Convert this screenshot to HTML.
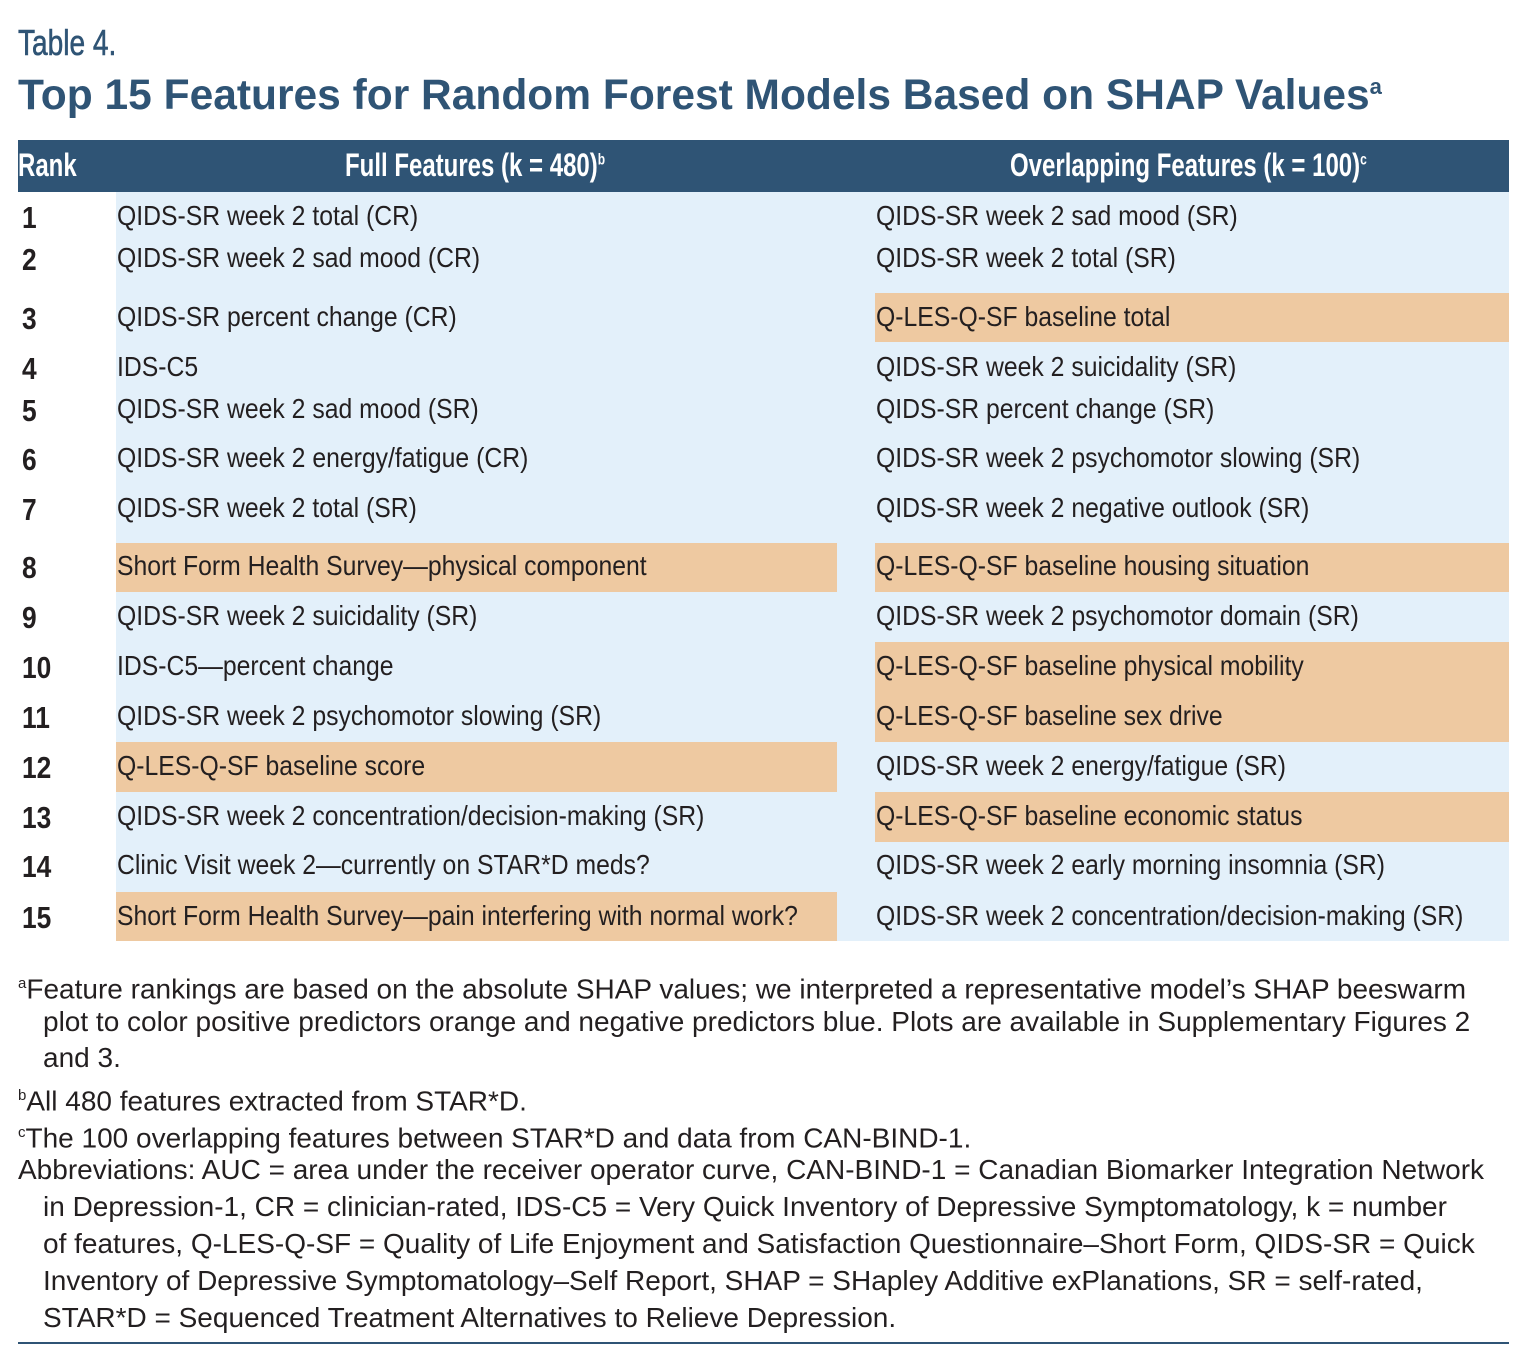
<!DOCTYPE html>
<html><head><meta charset="utf-8">
<style>
body{margin:0;background:#fff;width:1536px;height:1360px;position:relative;overflow:hidden;font-family:"Liberation Sans",sans-serif;color:#231f20}
.abs{position:absolute;white-space:nowrap}
.cell{position:absolute;}
.txt{position:absolute;white-space:nowrap;font-size:28px;line-height:32px;transform:scaleX(0.884);transform-origin:0 0}
.rank{position:absolute;white-space:nowrap;font-size:31px;font-weight:bold;line-height:32px;transform:scaleX(0.85);transform-origin:0 0}
.fn{position:absolute;white-space:nowrap;font-size:28px;line-height:30px;left:18px}
</style></head><body>
<div class="abs" style="left:18px;top:22px;font-size:36px;color:#2f5475;transform:scaleX(0.78);transform-origin:0 0;-webkit-text-stroke:0.6px #2f5475">Table 4.</div>
<div class="abs" style="left:18px;top:72px;font-size:42.5px;font-weight:bold;color:#2f5475">Top 15 Features for Random Forest Models Based on SHAP Values<sup style="font-size:22px">a</sup></div>
<div class="abs" style="left:18px;top:140px;width:1491px;height:52px;background:#2f5475"></div>
<div class="abs" style="left:18px;top:147px;font-size:32px;font-weight:bold;color:#fff;transform:scaleX(0.75);transform-origin:0 0">Rank</div>
<div class="abs" style="left:345px;top:147px;font-size:32px;font-weight:bold;color:#fff;transform:scaleX(0.75);transform-origin:0 0">Full Features (k = 480)<sup style="font-size:16px">b</sup></div>
<div class="abs" style="left:1010px;top:147px;font-size:32px;font-weight:bold;color:#fff;transform:scaleX(0.75);transform-origin:0 0">Overlapping Features (k = 100)<sup style="font-size:16px">c</sup></div>
<div class="abs" style="left:116px;top:192px;width:1393px;height:749px;background:#e3f0fa"></div>
<div id="rows"></div>
<div class="fn" style="top:969px"><sup style="font-size:15px">a</sup>Feature rankings are based on the absolute SHAP values; we interpreted a representative model’s SHAP beeswarm</div>
<div class="fn" style="top:1007px;left:43px">plot to color positive predictors orange and negative predictors blue. Plots are available in Supplementary Figures 2</div>
<div class="fn" style="top:1043px;left:43px">and 3.</div>
<div class="fn" style="top:1081px"><sup style="font-size:15px">b</sup>All 480 features extracted from STAR*D.</div>
<div class="fn" style="top:1118px"><sup style="font-size:15px">c</sup>The 100 overlapping features between STAR*D and data from CAN-BIND-1.</div>
<div class="fn" style="top:1155px">Abbreviations: AUC = area under the receiver operator curve, CAN-BIND-1 = Canadian Biomarker Integration Network</div>
<div class="fn" style="top:1192px;left:43px">in Depression-1, CR = clinician-rated, IDS-C5 = Very Quick Inventory of Depressive Symptomatology, k = number</div>
<div class="fn" style="top:1229px;left:43px">of features, Q-LES-Q-SF = Quality of Life Enjoyment and Satisfaction Questionnaire–Short Form, QIDS-SR = Quick</div>
<div class="fn" style="top:1266px;left:43px">Inventory of Depressive Symptomatology–Self Report, SHAP = SHapley Additive exPlanations, SR = self-rated,</div>
<div class="fn" style="top:1303px;left:43px">STAR*D = Sequenced Treatment Alternatives to Relieve Depression.</div>
<div class="abs" style="left:18px;top:1342px;width:1491px;height:2px;background:#2f5475"></div>
<script>
const leftFeatures=["QIDS-SR week 2 total (CR)","QIDS-SR week 2 sad mood (CR)","QIDS-SR percent change (CR)","IDS-C5","QIDS-SR week 2 sad mood (SR)","QIDS-SR week 2 energy/fatigue (CR)","QIDS-SR week 2 total (SR)","Short Form Health Survey—physical component","QIDS-SR week 2 suicidality (SR)","IDS-C5—percent change","QIDS-SR week 2 psychomotor slowing (SR)","Q-LES-Q-SF baseline score","QIDS-SR week 2 concentration/decision-making (SR)","Clinic Visit week 2—currently on STAR*D meds?","Short Form Health Survey—pain interfering with normal work?"];
const rightFeatures=["QIDS-SR week 2 sad mood (SR)","QIDS-SR week 2 total (SR)","Q-LES-Q-SF baseline total","QIDS-SR week 2 suicidality (SR)","QIDS-SR percent change (SR)","QIDS-SR week 2 psychomotor slowing (SR)","QIDS-SR week 2 negative outlook (SR)","Q-LES-Q-SF baseline housing situation","QIDS-SR week 2 psychomotor domain (SR)","Q-LES-Q-SF baseline physical mobility","Q-LES-Q-SF baseline sex drive","QIDS-SR week 2 energy/fatigue (SR)","Q-LES-Q-SF baseline economic status","QIDS-SR week 2 early morning insomnia (SR)","QIDS-SR week 2 concentration/decision-making (SR)"];
const leftPositive=[0,0,0,0,0,0,0,1,0,0,0,1,0,0,1];
const rightPositive=[0,0,1,0,0,0,0,1,0,1,1,0,1,0,0];
const rowTop=[192,238,293,342,388,434,484,543,592,642,692,742,792,842,892,941];
const textCenter=[217,259,318,368,410,459,509,567,617,667,717,767,817,866,917];
const root=document.getElementById('rows');
function add(cls,text,styles){const d=document.createElement('div');d.className=cls;if(text!==null)d.textContent=text;Object.assign(d.style,styles);root.appendChild(d);return d;}
for(let i=0;i<15;i++){
  if(leftPositive[i]){const c=add('cell',null,{left:'116px',top:rowTop[i]+'px',width:'721px',height:(rowTop[i+1]-rowTop[i])+'px',background:'#eec9a1'});
    
    }
  if(rightPositive[i]){const c=add('cell',null,{left:'875px',top:rowTop[i]+'px',width:'634px',height:(rowTop[i+1]-rowTop[i])+'px',background:'#eec9a1'});
    
    }
}
for(let i=0;i<15;i++){
  const r=add('rank',String(i+1),{left:'22px',top:(textCenter[i]-15)+'px'});
  
  
  const l=add('txt',leftFeatures[i],{left:'117px',top:(textCenter[i]-17)+'px'});
  
  
  const rt=add('txt',rightFeatures[i],{left:'876px',top:(textCenter[i]-17)+'px'});
  
  
}
</script>
</body></html>
